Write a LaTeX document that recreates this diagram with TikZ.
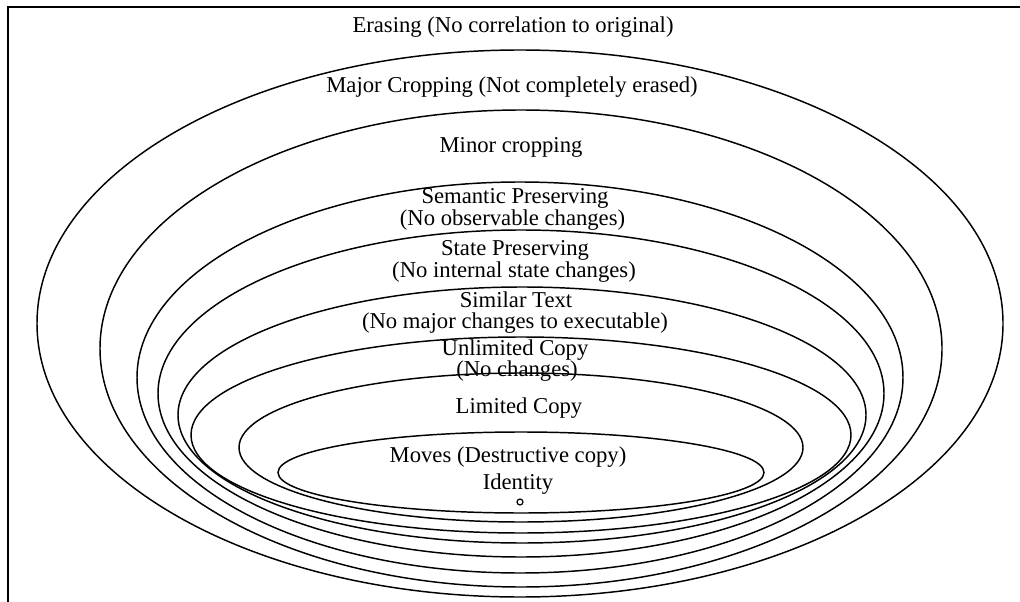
\documentclass[tikz,border=0pt]{standalone}
\usepackage{fontspec}
\setmainfont{Liberation Serif}
\usepackage{tikz}

\begin{document}
\begin{tikzpicture}[x=0.75pt,y=0.75pt,yscale=-1,xscale=1,
  ring/.style={line width=1.1pt},
  lbl/.style={anchor=base,inner sep=0pt,font=\fontsize{17}{20}\selectfont}]
\useasboundingbox (0,0) rectangle (1020,602);
%frame
\draw [line width=1.4pt]  (8,602) -- (8,7) -- (1020,7) ;
%nested regions
\draw [ring]  (520,323.5) ellipse [x radius=483, y radius=273.5] ;
\draw [ring]  (521,348.5) ellipse [x radius=421, y radius=238.5] ;
\draw [ring]  (520,377.5) ellipse [x radius=383, y radius=195.5] ;
\draw [ring]  (521,393.5) ellipse [x radius=363, y radius=163.5] ;
\draw [ring]  (522,415) ellipse [x radius=344, y radius=128] ;
\draw [ring]  (521,435) ellipse [x radius=330, y radius=98] ;
\draw [ring]  (521,447.5) ellipse [x radius=282, y radius=74.5] ;
\draw [ring]  (521,472.5) ellipse [x radius=243, y radius=40.5] ;
\draw [line width=0.9pt]  (520,502) circle [radius=3] ;
%labels
\draw (513,33) node [lbl] (erase) {Erasing (No correlation to original)};
\draw (512,93) node [lbl] (major) {Major Cropping (Not completely erased)};
\draw (511,153) node [lbl] (minor) {Minor cropping};
\draw (515,204) node [lbl] (sem) {Semantic Preserving};
\draw (512.5,225.5) node [lbl] (semnote) {(No observable changes)};
\draw (515,256) node [lbl] (state) {State Preserving};
\draw (514,277.5) node [lbl] (statenote) {(No internal state changes)};
\draw (516,307) node [lbl] (sim) {Similar Text};
\draw (515,328.5) node [lbl] (simnote) {(No major changes to executable)};
\draw (515,355) node [lbl] (unlim) {Unlimited Copy};
\draw (517,376.5) node [lbl] (unlimnote) {(No changes)};
\draw (519,413) node [lbl] (lim) {Limited Copy};
\draw (508,462) node [lbl] (moves) {Moves (Destructive copy)};
\draw (518,489) node [lbl] (ident) {Identity};
\end{tikzpicture}
\end{document}
